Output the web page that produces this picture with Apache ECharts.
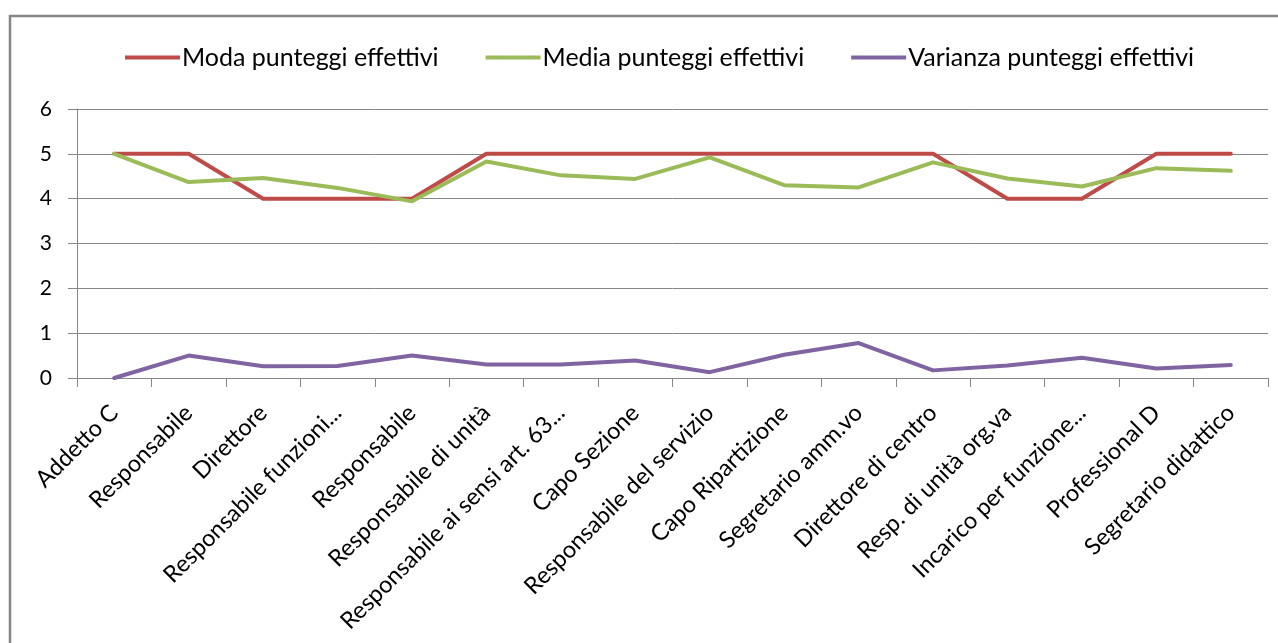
<!DOCTYPE html>
<html>
<head>
<meta charset="utf-8">
<script src="https://cdn.jsdelivr.net/npm/echarts@6/dist/echarts.min.js"></script>
<style>
  html, body { margin: 0; padding: 0; background: #fff; }
  #chart { width: 1278px; height: 643px; }
</style>
</head>
<body>
<div id="chart"></div>
<script>
// Ruoli / qualifiche
const categories = [
  'Addetto C', 'Responsabile', 'Direttore', 'Responsabile funzioni...',
  'Responsabile', 'Responsabile di unità', 'Responsabile ai sensi art. 63...',
  'Capo Sezione', 'Responsabile del servizio', 'Capo Ripartizione',
  'Segretario amm.vo', 'Direttore di centro', 'Resp. di unità org.va',
  'Incarico per funzione...', 'Professional D', 'Segretario didattico'
];

const moda = [5, 5, 4, 4, 4, 5, 5, 5, 5, 5, 5, 5, 4, 4, 5, 5];
const media = [5.0, 4.37, 4.46, 4.24, 3.94, 4.83, 4.52, 4.44, 4.92, 4.30, 4.25, 4.81, 4.45, 4.27, 4.68, 4.62];
const varianza = [0, 0.50, 0.26, 0.27, 0.50, 0.30, 0.30, 0.39, 0.13, 0.52, 0.78, 0.17, 0.28, 0.45, 0.21, 0.29];

const seriesNames = ['Moda punteggi effettivi', 'Media punteggi effettivi', 'Varianza punteggi effettivi'];
const seriesColors = ['#BE4B48', '#9BBB59', '#8064A2'];
const yTicks = [0, 1, 2, 3, 4, 5, 6];

const FONT = 'Lato, "Open Sans", sans-serif';
const chart = echarts.init(document.getElementById('chart'), null, { renderer: 'canvas' });

const mkSeries = (i, data) => ({
  name: seriesNames[i],
  type: 'line',
  data: data,
  symbol: 'none',
  lineStyle: { color: seriesColors[i], width: 4, cap: 'round', join: 'round' },
  itemStyle: { color: seriesColors[i] },
  animation: false
});

chart.setOption({
  animation: false,
  graphic: [{
    type: 'rect',
    shape: { x: 10, y: 16, width: 1300, height: 700 },
    style: { fill: 'none', stroke: '#878787', lineWidth: 2.5 },
    z: -1
  }],
  legend: {
    top: 40,
    left: 120,
    icon: 'rect',
    itemWidth: 55,
    itemHeight: 4,
    itemGap: 47,
    textStyle: { fontFamily: FONT, fontSize: 25, color: '#000', padding: [0, 0, 0, -3] },
    data: seriesNames
  },
  grid: { left: 77, right: 10, top: 109, bottom: 265, containLabel: false },
  xAxis: {
    type: 'category',
    data: categories,
    boundaryGap: true,
    axisLine: { lineStyle: { color: '#868686', width: 1 } },
    axisTick: { show: true, alignWithLabel: false, length: 9, lineStyle: { color: '#868686' } },
    axisLabel: {
      rotate: 45,
      interval: 0,
      fontFamily: FONT,
      fontSize: 23.5,
      color: '#000',
      margin: 31
    }
  },
  yAxis: {
    type: 'value',
    min: yTicks[0],
    max: yTicks[yTicks.length - 1],
    interval: 1,
    axisLine: { show: true, lineStyle: { color: '#868686', width: 1 } },
    axisTick: { show: true, length: 9, lineStyle: { color: '#868686' } },
    splitLine: { lineStyle: { color: '#868686', width: 1 } },
    axisLabel: { fontFamily: FONT, fontSize: 21, color: '#000', margin: 25 }
  },
  series: [
    mkSeries(0, moda),
    mkSeries(1, media),
    mkSeries(2, varianza)
  ]
});
</script>
</body>
</html>
